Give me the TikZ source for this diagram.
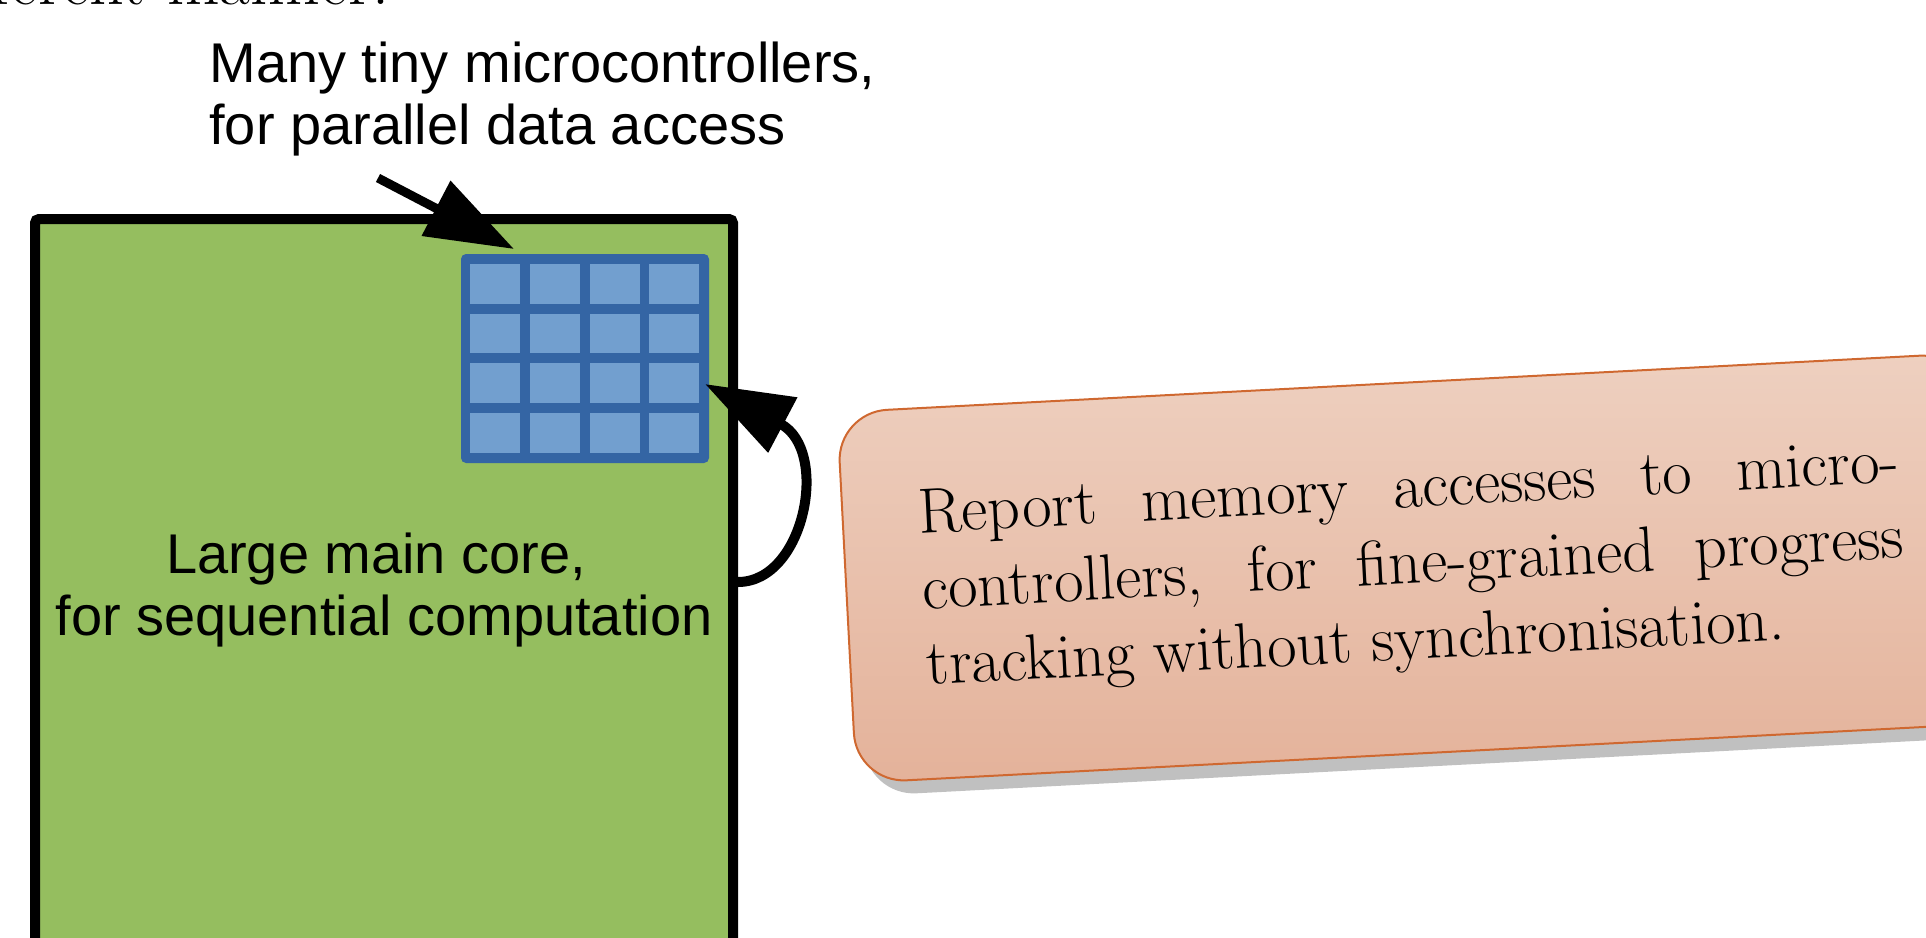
\documentclass[tikz,border=0pt]{standalone}
\usepackage{fontspec}
\newfontfamily\labelfont{Liberation Sans}
\usetikzlibrary{arrows.meta,shadows,calc}
\definecolor{coregreen}{RGB}{149,190,95}
\definecolor{griddark}{RGB}{52,101,164}
\definecolor{gridlight}{RGB}{114,159,207}
\definecolor{noteborder}{RGB}{207,104,48}
\definecolor{notetop}{RGB}{238,208,192}
\definecolor{notebottom}{RGB}{228,178,154}
\definecolor{noteshadow}{RGB}{192,192,192}
\begin{document}
\begin{tikzpicture}[x=0.5pt,y=-0.5pt,
  lbl/.style={font=\labelfont\fontsize{28}{31}\selectfont, inner sep=0pt},
  bigarrow/.style={line width=4.5pt, -{Triangle[length=44pt,width=30pt]}},
  cell/.style={fill=gridlight, draw=none, minimum width=25pt, minimum height=19.75pt, inner sep=0pt, outer sep=0pt},
  corebox/.style={draw=black, line width=5pt, fill=coregreen, rounded corners=2pt, inner sep=0pt, outer sep=0pt},
  gridbox/.style={fill=griddark, rounded corners=2.5pt, inner sep=0pt, outer sep=0pt},
  notebox/.style={draw=noteborder, line width=1pt, top color=notetop, bottom color=notebottom,
    rounded corners=25pt, minimum width=567pt, minimum height=185.5pt, text width=491pt,
    align=justify, inner sep=0pt, rotate=3,
    drop shadow={shadow xshift=5pt, shadow yshift=-6.5pt, fill=noteshadow, opacity=1},
    font=\fontsize{32}{38}\selectfont}
]
\useasboundingbox (0,0) rectangle (1926,937);
\clip (0,0) rectangle (1926,937);

% partially visible text at the top
\node[anchor=base west, inner sep=0pt, font=\fontsize{34}{40}\selectfont] (prev) at (10,4) {\llap{diff}erent manner.};

% large main core
\node[corebox, anchor=north west, minimum width=349pt, minimum height=420pt] (core) at (35,219) {};
\node[lbl, align=center] (coretext) at (384,590) {Large main core,\kern0.28em\\for sequential computation};

% grid of microcontrollers
\node[gridbox, minimum width=124pt, minimum height=104.5pt] (grid) at (585,358.5) {};
\foreach \r in {1,...,4}{
  \foreach \c in {1,...,4}{
    \node[cell] (c\r\c) at ({495+59.75*(\c-1)},{283.8+49.7*(\r-1)}) {};
  }
}

% label for microcontrollers
\node[lbl, align=left, anchor=north west] (mctext) at (209,42) {Many tiny microcontrollers,\\for parallel data access};

% arrow to grid
\coordinate (ttail) at (378,178);
\coordinate (ttip) at (514,249);
\draw[bigarrow] (ttail) -- (ttip);

% loop arrow from core to grid
\coordinate (loopstart) at (738,582);
\coordinate (looptip) at (705,384);
\draw[bigarrow, line width=5pt] (loopstart) .. controls (805,582) and (830,450) .. (looptip);

% callout
\node[notebox] (note) at (1413,568) {Report memory accesses to micro-\linebreak controllers, for fine-grained progress\linebreak tracking without synchronisation.};
\end{tikzpicture}
\end{document}
